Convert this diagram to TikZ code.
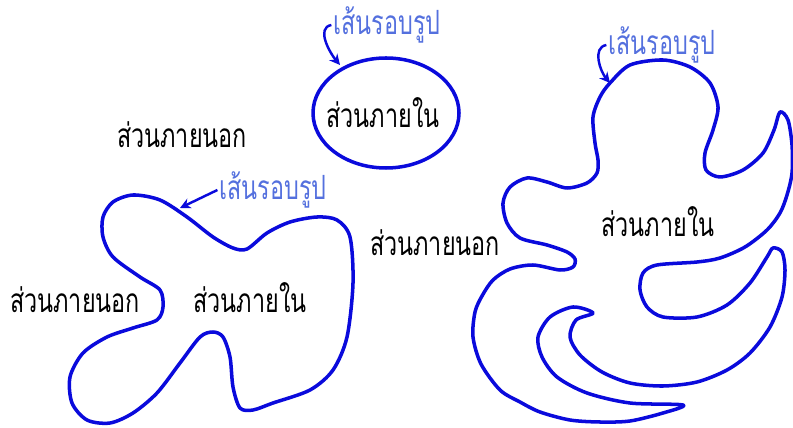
\documentclass[tikz,border=0pt]{standalone}
\usepackage{fontspec}
\usetikzlibrary{arrows.meta}
\newfontfamily\thaifont[Script=Thai,FakeStretch=0.7]{Loma}
\definecolor{edgeBlue}{RGB}{10,10,220}
\definecolor{tagBlue}{RGB}{84,112,222}
\newcommand{\Inner}{ส่วนภายใน}
\newcommand{\Outer}{ส่วนภายนอก}
\newcommand{\Rim}{เส้นรอบรูป}

\begin{document}
\begin{tikzpicture}[x=0.02cm,y=-0.02cm,
  region/.style={font=\thaifont\fontsize{19}{21}\selectfont,text=black,inner sep=1pt},
  rimtag/.style={font=\thaifont\fontsize{19}{21}\selectfont,text=tagBlue,inner sep=1pt},
  outline/.style={draw=edgeBlue,line width=2pt,line join=round},
  pointer/.style={draw=edgeBlue,line width=1.4pt,-{Stealth[length=6pt,width=6pt]}}]
\useasboundingbox (0,0) rectangle (793,428);
% ellipse
\draw[outline] (386,113) ellipse [x radius=73,y radius=55];
\node[region] (inA) at (383,113) {\Inner};
\node[rimtag] (rimA) at (387,25) {\Rim};
\coordinate (hitA) at (340,65);
\draw[pointer] (rimA.west) to[out=190,in=130] (hitA);
\node[region] (outA) at (182,135) {\Outer};
% left blob
\draw[outline] plot[smooth cycle] coordinates {
 (273,403) (310,390) (333,370) (347,337) (353,283) (350,237) (337,220)
 (317,217) (290,222) (267,233) (247,249) (233,248) (213,237) (187,217)
 (160,200) (133,195) (113,202) (103,217) (103,237) (113,257) (140,277)
 (160,290) (163,307) (157,320) (133,328) (107,337) (83,353) (70,377)
 (72,403) (87,420) (110,423) (133,413) (157,393) (180,363) (200,337)
 (213,332) (223,337) (230,357) (233,387) (240,408) (253,410)};
\node[region] (inB) at (250,298) {\Inner};
\node[region] (outB) at (75,300) {\Outer};
\node[rimtag] (rimB) at (273,190) {\Rim};
\coordinate (hitB) at (180,208);
\draw[pointer] (rimB.west) -- (hitB);
% right blob
\draw[outline] plot[smooth cycle] coordinates {
 (610,83) (630,65) (663,60) (690,67) (710,83) (718,107) (713,130)
 (705,153) (706,170) (720,177) (743,170) (763,153) (774,130) (780,112)
 (788,120) (792,145) (792,173) (787,195) (780,213) (767,230) (745,247)
 (720,258) (697,262) (657,265) (643,273) (640,290) (647,307) (663,317)
 (697,317) (727,305) (750,283) (767,257) (773,248) (782,252) (785,270)
 (782,297) (770,327) (750,353) (727,370) (697,382) (663,386) (630,383)
 (602,372) (580,355) (570,337) (576,320) (593,313) (573,307) (550,317)
 (538,337) (542,357) (557,377) (587,393) (630,403) (683,405) (663,413)
 (630,421) (600,422) (570,420) (540,412) (520,402) (500,390) (481,364)
 (473,337) (475,312) (482,296) (493,280) (510,269) (533,265) (560,270)
 (573,267) (575,259) (567,252) (547,245) (520,238) (507,223) (503,203)
 (510,187) (527,178) (547,182) (567,188) (587,183) (597,173) (598,160)
 (595,143) (593,117) (600,97)};
\node[region] (inC) at (658,222) {\Inner};
\node[region] (outC) at (435,243) {\Outer};
\node[rimtag] (rimC) at (662,45) {\Rim};
\coordinate (hitC) at (610,83);
\draw[pointer] (rimC.west) to[out=190,in=130] (hitC);
\end{tikzpicture}
\end{document}
